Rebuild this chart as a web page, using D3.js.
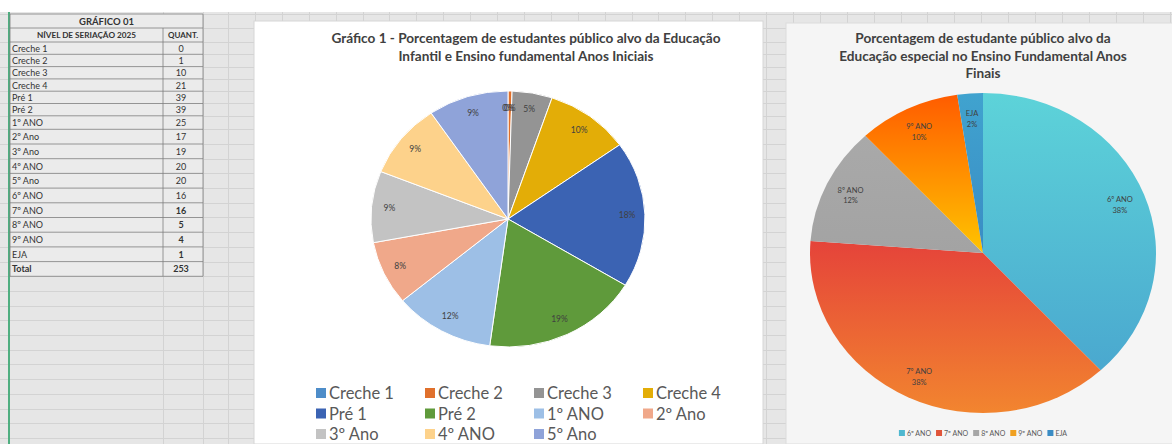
<!DOCTYPE html>
<html><head><meta charset="utf-8">
<script src="https://cdn.jsdelivr.net/npm/d3@7"></script>
<style>body{margin:0;background:#fff;overflow:hidden}svg{display:block}</style>
</head><body>
<svg id="c" width="1172" height="444"></svg>
<script>
// ---------- DATA ----------
const tableTitle = "GRÁFICO 01";
const tableHeaders = ["NÍVEL DE SERIAÇÃO 2025", "QUANT."];
const levels = ["Creche 1","Creche 2","Creche 3","Creche 4","Pré 1","Pré 2","1º ANO","2º Ano","3º Ano","4º ANO","5º Ano","6º ANO","7º ANO","8º ANO","9º ANO","EJA"];
const quantities = [0,1,10,21,39,39,25,17,19,20,20,16,16,5,4,1];
const totalLabel = "Total";

const chart1Title = ["Gráfico 1 - Porcentagem de estudantes público alvo da Educação", "Infantil e Ensino fundamental Anos Iniciais"];
const chart1Categories = ["Creche 1","Creche 2","Creche 3","Creche 4","Pré 1","Pré 2","1º ANO","2º Ano","3º Ano","4º ANO","5º Ano"];
const chart1Values = [0,1,10,21,39,39,25,17,19,20,20];
const chart1Labels = ["0%","0%","5%","10%","18%","19%","12%","8%","9%","9%","9%"];
const chart1Colors = ["#4e8dc9","#e0702c","#949494","#e3ad07","#3b63b3","#5f9a3b","#9dbfe6","#f0a88a","#c3c3c3","#fdd28b","#8fa3d9"];

const chart2Title = ["Porcentagem de estudante público alvo da", "Educação especial no Ensino Fundamental Anos", "Finais"];
const chart2Categories = ["6º ANO","7º ANO","8º ANO","9º ANO","EJA"];
const chart2Values = [16,16,5,4,1];
const chart2Gradients = [["#5dd3d9","#4aa8cf"],["#e5433a","#f2852f"],["#a9a9a9","#a3a3a3"],["#ff5c00","#ffc400"],["#40a3cf","#3a8cc4"]];
const chart2LegendColors = ["#4fb8d0","#e0553a","#a6a6a6","#f0a020","#3b8cc4"];

// ---------- SHEET ----------
const svg = d3.select("#c");
const W = 1172, H = 444;
svg.append("rect").attr("width",W).attr("height",H).attr("fill","#fff");
svg.append("rect").attr("x",0).attr("y",12).attr("width",W).attr("height",H-12).attr("fill","#e6e6e6");

const tableRowHeights = [14,14].concat(d3.range(6).map(()=>12.3), [13.5], d3.range(10).map(()=>14.7));
const rowEdges = [14];
tableRowHeights.forEach(h => rowEdges.push(rowEdges[rowEdges.length-1]+h));
while (rowEdges[rowEdges.length-1] < H) rowEdges.push(rowEdges[rowEdges.length-1]+14.7);
const grid = svg.append("g").attr("stroke","#d3d3d3").attr("stroke-width",1);
rowEdges.forEach(y => grid.append("line").attr("x1",0).attr("x2",W).attr("y1",Math.round(y)+0.5).attr("y2",Math.round(y)+0.5));
const colEdges = [163,203].concat(d3.range(228,W,26.9));
colEdges.forEach(x => grid.append("line").attr("x1",Math.round(x)+0.5).attr("x2",Math.round(x)+0.5).attr("y1",12).attr("y2",H));
svg.append("line").attr("x1",9).attr("x2",9).attr("y1",12).attr("y2",H).attr("stroke","#4fae80").attr("stroke-width",2);

// ---------- TABLE ----------
const tx0 = 10, tx1 = 163, tx2 = 203;
const tab = svg.append("g").style("font-family","Lato, 'Open Sans', sans-serif").attr("fill","#333");
const tTop = rowEdges[0], tBottom = rowEdges[tableRowHeights.length];
tab.append("rect").attr("x",tx0).attr("y",tTop).attr("width",tx2-tx0).attr("height",tBottom-tTop).attr("fill","#ebebeb");
const tb = tab.append("g").attr("stroke","#7d7d7d").attr("stroke-width",0.8);
for (let i=0;i<=tableRowHeights.length;i++) tb.append("line").attr("x1",tx0).attr("x2",tx2).attr("y1",rowEdges[i]).attr("y2",rowEdges[i]);
tb.append("line").attr("x1",tx0).attr("x2",tx0).attr("y1",tTop).attr("y2",tBottom);
tb.append("line").attr("x1",tx2).attr("x2",tx2).attr("y1",tTop).attr("y2",tBottom);
tb.append("line").attr("x1",tx1).attr("x2",tx1).attr("y1",rowEdges[1]).attr("y2",tBottom);
const mid = i => (rowEdges[i]+rowEdges[i+1])/2;
tab.append("text").attr("x",(tx0+tx2)/2).attr("y",mid(0)).attr("text-anchor","middle").attr("dominant-baseline","central").attr("font-size",9.5).attr("font-weight","bold").text(tableTitle);
tab.append("text").attr("x",(tx0+tx1)/2).attr("y",mid(1)).attr("text-anchor","middle").attr("dominant-baseline","central").attr("font-size",8.2).attr("font-weight","bold").text(tableHeaders[0]);
tab.append("text").attr("x",(tx1+tx2)/2).attr("y",mid(1)).attr("text-anchor","middle").attr("dominant-baseline","central").attr("font-size",8).attr("font-weight","bold").text(tableHeaders[1]);
const rows = levels.map((l,i)=>({label:l, value:quantities[i], bold:i>=12}));
rows.push({label:totalLabel, value:d3.sum(quantities), bold:true, boldLabel:true});
rows.forEach((r,i)=>{
  const y = mid(i+2);
  tab.append("text").attr("x",tx0+2).attr("y",y).attr("dominant-baseline","central").attr("font-size",9).attr("font-weight",r.boldLabel?"bold":"normal").text(r.label);
  tab.append("text").attr("x",(tx1+tx2)/2-2).attr("y",y).attr("text-anchor","middle").attr("dominant-baseline","central").attr("font-size",9).attr("font-weight",r.bold?"bold":"normal").text(r.value);
});

// ---------- CHART 1 ----------
const c1 = svg.append("g").style("font-family","Lato, 'Open Sans', sans-serif");
c1.append("rect").attr("x",254).attr("y",21).attr("width",509).attr("height",H-21).attr("fill","#fff").attr("stroke","#d6d6d6");
chart1Title.forEach((t,i)=>c1.append("text").attr("x",526).attr("y",38+i*17.5).attr("text-anchor","middle").attr("dominant-baseline","central")
  .attr("font-size",13.6).attr("font-weight","bold").attr("fill","#404040").text(t));
const p1 = {cx:508, cy:219, r:137, ky:128/137};
const pie = d3.pie().sort(null).value(d=>d);
const arcs1 = pie(chart1Values);
const arc1 = d3.arc().innerRadius(0).outerRadius(p1.r);
const g1 = c1.append("g").attr("transform",`translate(${p1.cx},${p1.cy}) scale(1,${p1.ky})`);
g1.selectAll("path").data(arcs1).join("path").attr("d",arc1).attr("fill",(d,i)=>chart1Colors[i])
  .attr("stroke","#fff").attr("stroke-width",1).attr("vector-effect","non-scaling-stroke");
const lab1 = d3.arc().innerRadius(p1.r*0.87).outerRadius(p1.r*0.87);
c1.selectAll("text.pl").data(arcs1).join("text").attr("class","pl")
  .attr("x",d=>p1.cx+lab1.centroid(d)[0]).attr("y",d=>p1.cy+lab1.centroid(d)[1]*p1.ky)
  .attr("text-anchor","middle").attr("dominant-baseline","central").attr("font-size",8.5).attr("fill","#404040")
  .text((d,i)=>chart1Labels[i]);
const lg1 = c1.append("g");
chart1Categories.forEach((c,i)=>{
  const col = i%4, row = Math.floor(i/4);
  const x = 316 + col*109, y = 393 + row*20.5;
  lg1.append("rect").attr("x",x).attr("y",y-5).attr("width",10).attr("height",10).attr("fill",chart1Colors[i]);
  lg1.append("text").attr("x",x+13).attr("y",y).attr("dominant-baseline","central").attr("font-size",16.5).attr("fill","#595959").text(c);
});

// ---------- CHART 2 ----------
const c2 = svg.append("g").style("font-family","Lato, 'Open Sans', sans-serif");
c2.append("rect").attr("x",786).attr("y",23).attr("width",W-786+2).attr("height",H-23).attr("fill","#f5f5f5").attr("stroke","#dcdcdc");
chart2Title.forEach((t,i)=>c2.append("text").attr("x",983).attr("y",38+i*17.5).attr("text-anchor","middle").attr("dominant-baseline","central")
  .attr("font-size",13.6).attr("font-weight","bold").attr("fill","#404040").text(t));
const defs = svg.append("defs");
chart2Gradients.forEach((g,i)=>{
  const lg = defs.append("linearGradient").attr("id","g2_"+i).attr("x1",0).attr("y1",0).attr("x2",0).attr("y2",1);
  lg.append("stop").attr("offset","0%").attr("stop-color",g[0]);
  lg.append("stop").attr("offset","100%").attr("stop-color",g[1]);
});
const p2 = {cx:983, cy:253, r:173, ky:160/173};
const arcs2 = pie(chart2Values);
const arc2 = d3.arc().innerRadius(0).outerRadius(p2.r);
const g2 = c2.append("g").attr("transform",`translate(${p2.cx},${p2.cy}) scale(1,${p2.ky})`);
g2.selectAll("path").data(arcs2).join("path").attr("d",arc2).attr("fill",(d,i)=>`url(#g2_${i})`);
const lab2 = d3.arc().innerRadius(p2.r*0.85).outerRadius(p2.r*0.85);
const total2 = d3.sum(chart2Values);
const pct = d3.format(".0%");
arcs2.forEach((d,i)=>{
  const [x,y] = lab2.centroid(d);
  const t = c2.append("text").attr("x",p2.cx+x).attr("y",p2.cy+y*p2.ky).attr("text-anchor","middle").attr("font-size",7.5).attr("fill","#404040");
  t.append("tspan").attr("x",p2.cx+x).attr("dy","-0.15em").text(chart2Categories[i]);
  t.append("tspan").attr("x",p2.cx+x).attr("dy","1.4em").text(pct(d.value/total2));
});
const lg2 = c2.append("g");
let lx = 0;
chart2Categories.forEach((c,i)=>{
  const gI = lg2.append("g");
  gI.append("rect").attr("x",lx).attr("y",-3).attr("width",6).attr("height",6).attr("fill",chart2LegendColors[i]);
  const tt = gI.append("text").attr("x",lx+8).attr("y",0).attr("dominant-baseline","central").attr("font-size",7).attr("fill","#595959").text(c);
  lx += 8 + tt.node().getComputedTextLength() + 5;
});
lg2.attr("transform",`translate(${983 - (lx-5)/2},433)`);
</script>
</body></html>
